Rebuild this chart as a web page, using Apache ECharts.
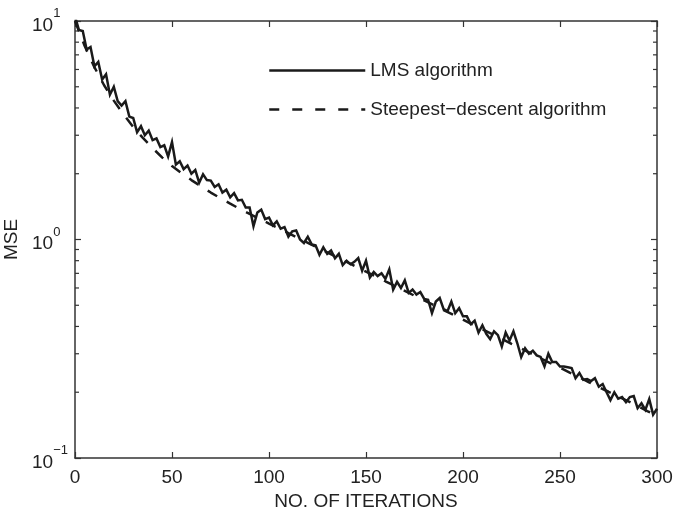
<!DOCTYPE html>
<html><head><meta charset="utf-8">
<script src="https://cdn.jsdelivr.net/npm/echarts@6/dist/echarts.min.js"></script>
<style>html,body{margin:0;padding:0;background:#fff}#c{width:675px;height:510px}</style>
</head><body><div id="c"></div>
<script>
// ---- data ----
const xTicks = [0, 50, 100, 150, 200, 250, 300];
const yMajor = [0.1, 1, 10];
const yMinor = [0.2, 0.3, 0.4, 0.5, 0.6, 0.7, 0.8, 0.9, 2, 3, 4, 5, 6, 7, 8, 9];
const seriesNames = ['LMS algorithm', 'Steepest\u2212descent algorithm'];

const sdIter = [0,5,10,15,20,25,30,35,40,45,50,55,60,65,70,75,80,85,90,95,100,
  105,110,115,120,125,130,135,140,145,150,155,160,165,170,175,180,185,190,195,200,
  205,210,215,220,225,230,235,240,245,250,255,260,265,270,275,280,285,290,295,300];
const sdMSE = [10.0,7.69,6.15,5.08,4.32,3.74,3.27,2.92,2.62,2.37,2.17,2.01,1.87,1.75,1.64,1.545,1.459,1.380,1.309,1.245,1.183,
  1.125,1.069,1.016,0.966,0.918,0.873,0.830,0.789,0.750,0.713,0.678,0.644,0.612,0.582,0.553,0.526,0.500,0.475,0.452,0.430,
  0.408,0.388,0.369,0.351,0.333,0.317,0.301,0.286,0.272,0.259,0.246,0.234,0.222,0.211,0.201,0.191,0.182,0.173,0.164,0.156];

const lmsIter = [0,2,4,6,8,10,12,14,16,18,20,22,24,26,28,30,32,34,36,38,40,42,44,46,48,50,
  52,54,56,58,60,62,64,66,68,70,72,74,76,78,80,82,84,86,88,90,92,94,96,98,100,
  102,104,106,108,110,112,114,116,118,120,122,124,126,128,130,132,134,136,138,140,142,144,146,148,150,
  152,154,156,158,160,162,164,166,168,170,172,174,176,178,180,182,184,186,188,190,192,194,196,198,200,
  202,204,206,208,210,212,214,216,218,220,222,224,226,228,230,232,234,236,238,240,242,244,246,248,250,
  252,254,256,258,260,262,264,266,268,270,272,274,276,278,280,282,284,286,288,290,292,294,296,298,300];
const lmsMSE = [10.5,9.1,9.0,7.4,7.6,6.2,6.5,5.4,5.7,4.6,5.0,4.3,4.1,4.3,3.65,3.6,3.1,3.3,3.0,3.15,2.85,2.9,2.65,2.7,2.4,2.79,
  2.2,2.28,2.1,2.18,2.0,2.08,1.82,1.99,1.87,1.86,1.74,1.79,1.64,1.69,1.56,1.63,1.51,1.52,1.40,1.40,1.15,1.33,1.37,1.24,1.26,
  1.16,1.21,1.12,1.14,1.03,1.09,1.10,1.0,0.964,1.03,0.95,0.94,0.851,0.92,0.86,0.89,0.82,0.86,0.764,0.80,0.77,0.79,0.822,0.72,0.80,
  0.67,0.71,0.68,0.70,0.66,0.73,0.59,0.64,0.60,0.65,0.57,0.59,0.56,0.575,0.535,0.53,0.461,0.52,0.54,0.48,0.47,0.52,0.46,0.485,0.445,
  0.445,0.41,0.425,0.375,0.405,0.37,0.35,0.38,0.365,0.324,0.375,0.345,0.38,0.335,0.29,0.318,0.30,0.31,0.295,0.29,0.263,0.30,0.275,0.275,0.262,
  0.262,0.26,0.258,0.232,0.245,0.228,0.23,0.225,0.232,0.212,0.218,0.20,0.184,0.20,0.187,0.19,0.18,0.19,0.192,0.169,0.178,0.166,0.186,0.158,0.168];

// ---- chart ----
const FONT = '"Liberation Sans", Arial, Helvetica, sans-serif';
const INK = '#1a1a1a';
const AX = '#333';
const chart = echarts.init(document.getElementById('c'), null, {renderer: 'canvas'});

function supLabel(v) {
  const e = Math.round(Math.log10(v));
  const es = e < 0 ? '\u2212' + (-e) : String(e);
  return '{b|10}{s|' + es + '}';
}

const common = {min: 0.1, max: 10, type: 'log', logBase: 10};
const hiddenItem = {color: 'transparent', borderColor: 'transparent', borderWidth: 0, opacity: 0};

chart.setOption({
  animation: false,
  backgroundColor: '#fff',
  color: [INK, INK, INK],
  textStyle: {fontFamily: FONT, color: '#222'},
  grid: {left: 75, right: 18, top: 21, bottom: 52, containLabel: false, outerBoundsMode: 'none'},
  legend: {
    orient: 'vertical', left: 263, top: 56,
    itemWidth: 96, itemHeight: 14, itemGap: 20,
    textStyle: {fontFamily: FONT, fontSize: 19, color: '#222', lineHeight: 14},
    itemStyle: hiddenItem,
    data: [
      {name: seriesNames[0], itemStyle: hiddenItem, lineStyle: {type: 'solid', width: 2.5, color: INK}},
      {name: seriesNames[1], itemStyle: hiddenItem, lineStyle: {type: [10, 13], width: 2.5, color: INK}}
    ]
  },
  xAxis: [{
    type: 'value', min: 0, max: 300, interval: 50, position: 'bottom',
    name: 'NO. OF ITERATIONS', nameLocation: 'middle', nameGap: 32,
    nameTextStyle: {fontFamily: FONT, fontSize: 19, color: '#222'},
    axisLine: {show: true, onZero: false, lineStyle: {color: AX, width: 1.5}},
    axisTick: {show: true, inside: true, length: 6, lineStyle: {color: AX, width: 1.2}},
    axisLabel: {fontFamily: FONT, fontSize: 19, color: '#222', margin: 10,
      formatter: v => xTicks.indexOf(v) >= 0 ? String(v) : ''},
    splitLine: {show: false}
  }, {
    type: 'value', min: 0, max: 300, interval: 50, position: 'top',
    axisLine: {show: true, onZero: false, lineStyle: {color: AX, width: 1.5}},
    axisTick: {show: true, inside: true, length: 6, lineStyle: {color: AX, width: 1.2}},
    axisLabel: {show: false}, splitLine: {show: false}
  }],
  yAxis: [Object.assign({}, common, {
    position: 'left',
    name: 'MSE', nameLocation: 'middle', nameGap: 42, nameRotate: 90,
    nameTextStyle: {fontFamily: FONT, fontSize: 19, color: '#222'},
    axisLine: {show: true, onZero: false, lineStyle: {color: AX, width: 1.5}},
    axisTick: {show: true, inside: true, length: 6, lineStyle: {color: AX, width: 1.2}},
    axisLabel: {
      margin: 43, align: 'left', color: '#222',
      formatter: v => yMajor.some(m => Math.abs(m - v) < 1e-9 * m) ? supLabel(v) : '',
      rich: {
        b: {fontFamily: FONT, fontSize: 19, color: '#222', lineHeight: 28, verticalAlign: 'bottom'},
        s: {fontFamily: FONT, fontSize: 13, color: '#222', lineHeight: 13, verticalAlign: 'top'}
      }
    },
    splitLine: {show: false}
  }), Object.assign({}, common, {
    position: 'right',
    axisLine: {show: true, onZero: false, lineStyle: {color: AX, width: 1.5}},
    axisTick: {show: true, inside: true, length: 6, lineStyle: {color: AX, width: 1.2}},
    axisLabel: {show: false}, splitLine: {show: false}
  })],
  series: [
    {
      name: seriesNames[1], type: 'line', xAxisIndex: 0, yAxisIndex: 0,
      data: sdIter.map((x, i) => [x, sdMSE[i]]),
      showSymbol: false, symbol: 'none', smooth: false, clip: true,
      itemStyle: {color: INK},
      lineStyle: {color: INK, width: 2.5, type: [11, 11]}, z: 2
    },
    {
      name: seriesNames[0], type: 'line', xAxisIndex: 0, yAxisIndex: 0,
      data: lmsIter.map((x, i) => [x, lmsMSE[i]]),
      showSymbol: false, symbol: 'none', smooth: false, clip: true,
      itemStyle: {color: INK},
      lineStyle: {color: INK, width: 2.5, type: 'solid', join: 'miter'}, z: 3
    },
    {
      name: 'minorTicks', type: 'custom', xAxisIndex: 0, yAxisIndex: 0, silent: true,
      data: yMinor.map(v => [0, v]),
      encode: {x: 0, y: 1},
      renderItem: function (params, api) {
        const y = api.coord([0, api.value(1)])[1];
        const cs = params.coordSys;
        const st = {stroke: AX, lineWidth: 1.2};
        return {type: 'group', children: [
          {type: 'line', shape: {x1: cs.x, y1: y, x2: cs.x + 4, y2: y}, style: st},
          {type: 'line', shape: {x1: cs.x + cs.width - 4, y1: y, x2: cs.x + cs.width, y2: y}, style: st}
        ]};
      },
      z: 1
    }
  ]
});
</script>
</body></html>
